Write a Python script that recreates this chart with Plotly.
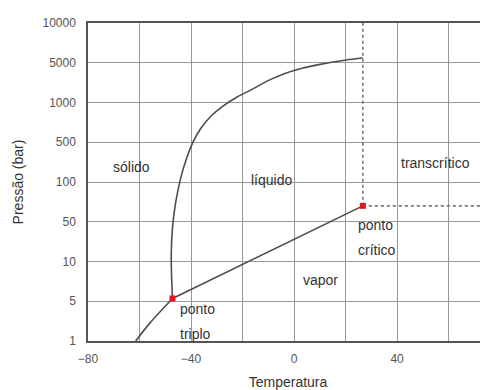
import plotly.graph_objects as go

# ---- data (temperature in deg C; pressure as position on the tick scale: 0=1, 1=5, 2=10, ...) ----
p_ticks = ["1", "5", "10", "50", "100", "500", "1000", "5000", "10000"]
x_ticks = [-80, -40, 0, 40]

triple_T, triple_P = -47.2, 1.07
crit_T, crit_P = 26.7, 3.40

subl_T = [-61.5, -56.0, -47.2]
subl_P = [0.0, 0.45, 1.07]

vap_T = [-47.2, 26.7]
vap_P = [1.07, 3.40]

melt_T = [-47.2, -47.6, -47.65, -47.2, -46.4, -45.2, -43.7, -41.7, -39.2, -36.1, -32.2,
          -27.6, -22.1, -16.3, -10.1, -3.5, 3.1, 10.1, 20.2, 26.7]
melt_P = [1.07, 1.74, 2.29, 2.84, 3.30, 3.75, 4.18, 4.60, 5.01, 5.36, 5.66,
          5.91, 6.14, 6.33, 6.55, 6.73, 6.86, 6.96, 7.07, 7.12]

x_range = [-80, 75.3]
y_range = [0, 8]

labels = ["sólido", "líquido", "transcrítico", "vapor", "ponto", "crítico", "ponto", "triplo"]
label_T = [-63.2, -8.9, 55.1, 10.1, 24.1, 24.1, -45.0, -45.0]
label_P = [4.38, 4.05, 4.48, 1.53, 2.92, 2.29, 0.81, 0.18]
label_anchor = ["center", "center", "center", "center", "left", "left", "left", "left"]

line_col = "#4d4d4d"
fig = go.Figure()

for xs, ys in [(subl_T, subl_P), (vap_T, vap_P), (melt_T, melt_P)]:
    fig.add_trace(go.Scatter(x=xs, y=ys, mode="lines",
                             line=dict(color=line_col, width=1.6, shape="spline", smoothing=0.8),
                             hoverinfo="skip", showlegend=False))

# dotted boundaries of the transcritical region
fig.add_trace(go.Scatter(x=[crit_T, crit_T], y=[crit_P, y_range[1]], mode="lines",
                         line=dict(color="#777777", width=1.6, dash="dot"), showlegend=False))
fig.add_trace(go.Scatter(x=[crit_T, x_range[1]], y=[crit_P, crit_P], mode="lines",
                         line=dict(color="#777777", width=1.6, dash="dot"), showlegend=False))

fig.add_trace(go.Scatter(x=[triple_T, crit_T], y=[triple_P, crit_P], mode="markers",
                         marker=dict(color="#e8141c", size=6, symbol="square"), showlegend=False))

for t, xv, yv, anc in zip(labels, label_T, label_P, label_anchor):
    fig.add_annotation(x=xv, y=yv, text=t, showarrow=False, xanchor=anc,
                       font=dict(family="Liberation Sans, Arial", size=14, color="#333333"))

fig.update_layout(
    width=480, height=382,
    margin=dict(l=80, r=0, t=15, b=49),
    plot_bgcolor="white", paper_bgcolor="white",
    font=dict(family="Liberation Sans, Arial", color="#555555"),
)
fig.update_xaxes(
    range=x_range, tickvals=x_ticks, showgrid=True, gridcolor="#999999", gridwidth=1,
    minor=dict(dtick=20, tick0=-80, showgrid=True, gridcolor="#999999", gridwidth=1),
    showline=True, linecolor="#555555", linewidth=1.5, mirror=True,
    ticks="outside", ticklen=6, tickcolor="rgba(0,0,0,0)",
    tickfont=dict(size=12, color="#555555"), zeroline=False,
    title=dict(text="Temperatura", font=dict(size=14, color="#333333"), standoff=12),
    automargin=False,
)
fig.update_yaxes(
    range=y_range, tickvals=list(range(len(p_ticks))), ticktext=p_ticks,
    showgrid=True, gridcolor="#999999", gridwidth=1,
    showline=True, linecolor="#555555", linewidth=1.5,
    ticks="outside", ticklen=8, tickcolor="rgba(0,0,0,0)",
    tickfont=dict(size=12, color="#555555"), zeroline=False,
    title=dict(text="Pressão (bar)", font=dict(size=14, color="#333333"), standoff=16),
    automargin=False,
)

fig.write_html("out.html")
